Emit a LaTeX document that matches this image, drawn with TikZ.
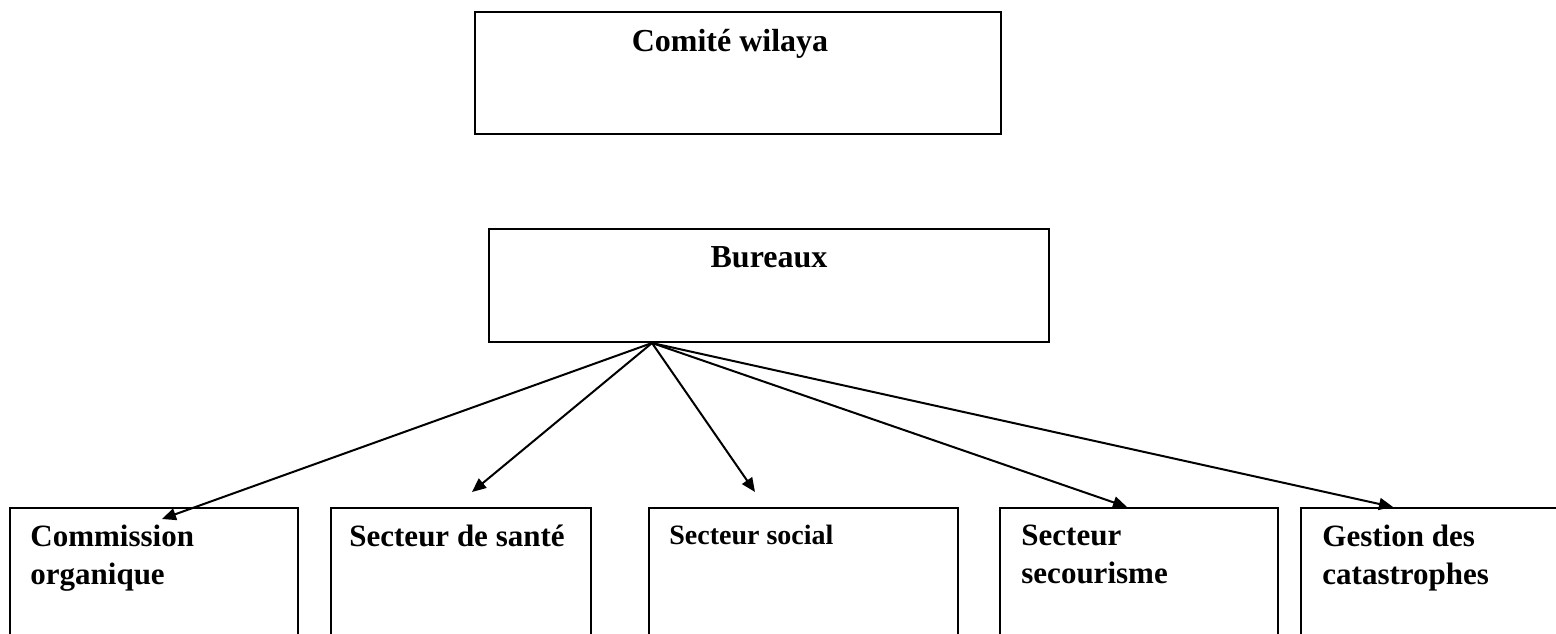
\documentclass[tikz,border=0pt]{standalone}
\usepackage{fontspec}
\setmainfont{Liberation Serif}
\usetikzlibrary{positioning,calc,arrows.meta}

\tikzset{
  box/.style={draw, line width=1pt, inner sep=0pt, anchor=north west},
  unit/.style={box, minimum width=144pt, minimum height=80pt},
  toplbl/.style={font=\bfseries\fontsize{16}{19}\selectfont, inner sep=0pt},
  lbl/.style={font=\bfseries\fontsize{15.5}{19}\selectfont, align=left, inner sep=0pt},
  link/.style={-{Triangle[length=7pt,width=6pt]}, line width=1pt},
}

\begin{document}
\begin{tikzpicture}[x=0.5pt,y=-0.5pt]
\useasboundingbox (0,0) rectangle (1556,633);
\clip (0,0) rectangle (1556,633);
% top level
\node[box, minimum width=263pt, minimum height=61pt] (cw) at (474,11) {};
\node[toplbl, below=9pt of cw.north, xshift=-4pt] (cwtxt) {Comité wilaya};
\node[box, minimum width=280pt, minimum height=56.5pt] (bur) at (488,228) {};
\node[toplbl, below=9pt of bur.north] (burtxt) {Bureaux};
% units
\node[unit] (org) at (9,507) {};
\node[unit, minimum width=130pt] (sante) at (330,507) {};
\node[unit, minimum width=154.5pt] (social) at (648,507) {};
\node[unit, minimum width=139pt] (secour) at (999,507) {};
\node[unit] (catas) at (1300,507) {};
\node[lbl, below right=9pt and 10.5pt of org.north west] (orgtxt) {Commission\\organique};
\node[lbl, below right=9pt and 9.5pt of sante.north west] (santetxt) {Secteur de santé};
\node[lbl, font=\bfseries\fontsize{14}{17}\selectfont, below right=9pt and 10.5pt of social.north west] (socialtxt) {Secteur social};
\node[lbl, below right=9pt and 11pt of secour.north west] (secourtxt) {Secteur\\secourisme};
\node[lbl, below right=9pt and 11pt of catas.north west] (catastxt) {Gestion des\\catastrophes};
% links
\coordinate (apex) at ($(bur.south west)+(164,0)$);
\coordinate (torg) at ($(org.north west)+(153,12)$);
\coordinate (tsante) at ($(sante.north west)+(142,-15)$);
\coordinate (tsocial) at ($(social.north west)+(107,-15)$);
\coordinate (tsecour) at ($(secour.north west)+(128,0)$);
\coordinate (tcatas) at ($(catas.north west)+(93,0)$);
\foreach \t in {torg,tsante,tsocial,tsecour,tcatas}
  \draw[link] (apex) -- (\t);
\end{tikzpicture}
\end{document}
